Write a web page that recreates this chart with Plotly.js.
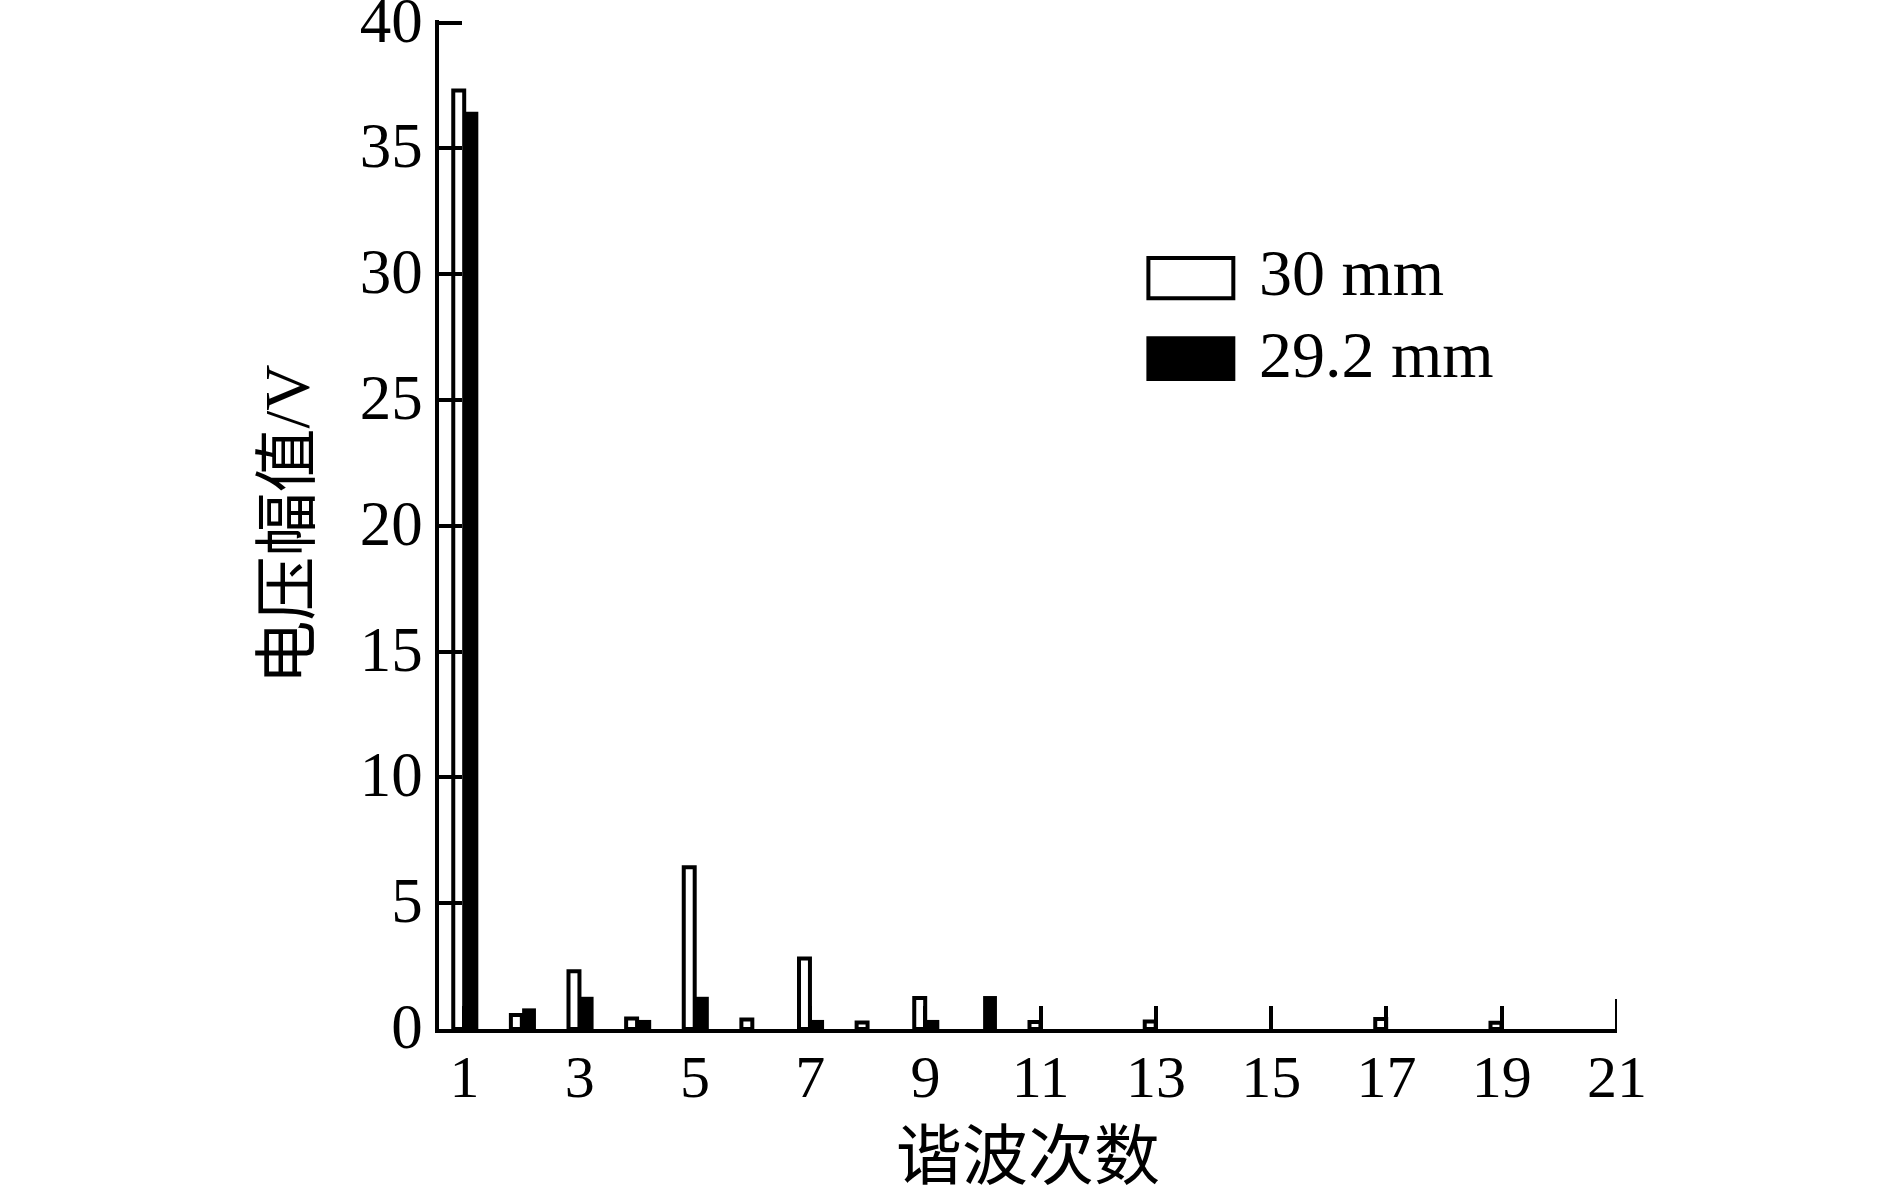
<!DOCTYPE html>
<html>
<head>
<meta charset="utf-8">
<script src="https://cdn.plot.ly/plotly-3.0.1.min.js"></script>
<style>html,body{margin:0;padding:0;background:#fff;}#chart{width:1889px;height:1193px;}</style>
</head>
<body>
<div id="chart"></div>
<script>
// Harmonic order
const harmonics = [1, 2, 3, 4, 5, 6, 7, 8, 9, 10, 11, 12, 13, 14, 15, 16, 17, 18, 19, 20];
// Voltage amplitude (V), 30 mm  (null = no bar drawn)
const amp30 = [37.3, 0.56, 2.3, 0.42, 6.43, 0.38, 2.8, 0.26, 1.23, null, 0.28, null, 0.3, null, null, null, 0.4, null, 0.25, null];
// Voltage amplitude (V), 29.2 mm  (null = no bar drawn)
const amp292 = [36.45, 0.82, 1.28, 0.36, 1.28, null, 0.36, null, 0.36, 1.31, null, null, null, null, null, null, null, null, null, null];
const seriesNames = ["30 mm", "29.2 mm"];
const xTicks = [1, 3, 5, 7, 9, 11, 13, 15, 17, 19, 21];
const yTicks = [0, 5, 10, 15, 20, 25, 30, 35, 40];
const xTitle = "谐波次数";
const yTitle = "电压幅值/V";

const serif = "Liberation Serif, Times New Roman, Noto Sans CJK SC, serif";
const cjk = "Liberation Serif, Noto Sans CJK SC, serif";

const traces = [
  {
    type: "bar", name: seriesNames[0], x: harmonics, y: amp30,
    width: 0.19, offset: -0.195,
    marker: {color: "#ffffff", line: {color: "#000000", width: 4}},
    hoverinfo: "x+y"
  },
  {
    type: "bar", name: seriesNames[1], x: harmonics, y: amp292,
    width: 0.24, offset: 0.0,
    marker: {color: "#000000", line: {color: "#000000", width: 0}},
    hoverinfo: "x+y"
  }
];

// y axis: ~25.17 px per volt; range top slightly above 40 so the 40 tick is kept
const yTop = 40.1;
const pxPerV = (1029 - 22.4) / 40;
const topMargin = 22.4 - (yTop - 40) * pxPerV;

const layout = {
  width: 1889, height: 1193,
  margin: {l: 438.5, r: 272.3, t: topMargin, b: 164, pad: 0},
  paper_bgcolor: "#ffffff", plot_bgcolor: "#ffffff",
  showlegend: false,
  barmode: "overlay",
  font: {family: serif, color: "#000000"},
  xaxis: {
    range: [0.5576, 21.0005],
    tickvals: xTicks,
    ticktext: xTicks.map(String),
    ticks: "inside", ticklen: 23, tickwidth: 4, tickcolor: "#000000",
    showline: true, linewidth: 3.6, linecolor: "#000000",
    showgrid: false, zeroline: false,
    tickfont: {family: serif, size: 60, color: "#000000"},
    ticklabelstandoff: -8,
    ticklabeloverflow: "allow",
    title: {text: xTitle, font: {family: cjk, size: 66, color: "#000000"}, standoff: 25}
  },
  yaxis: {
    range: [0, yTop],
    tickvals: yTicks,
    ticktext: yTicks.map(String),
    ticks: "inside", ticklen: 23, tickwidth: 4, tickcolor: "#000000",
    showline: true, linewidth: 3.6, linecolor: "#000000",
    showgrid: false, zeroline: false,
    tickfont: {family: serif, size: 63, color: "#000000"},
    ticklabelstandoff: 0,
    ticklabelshift: -3,
    ticklabeloverflow: "allow",
    title: {text: yTitle, font: {family: cjk, size: 64, color: "#000000"}, standoff: 30}
  },
  shapes: [
    // legend swatch: 30 mm (open box)
    {type: "rect", xref: "paper", yref: "paper", x0: 0.6022, x1: 0.6743, y0: 0.7243, y1: 0.7640,
     fillcolor: "#ffffff", line: {color: "#000000", width: 4}},
    // legend swatch: 29.2 mm (filled box)
    {type: "rect", xref: "paper", yref: "paper", x0: 0.6005, x1: 0.6760, y0: 0.6423, y1: 0.6865,
     fillcolor: "#000000", line: {width: 0}},
    // end mark of the x axis at 21
    {type: "line", xref: "x", yref: "y", ysizemode: "pixel", yanchor: 0, x0: 21, x1: 21, y0: 0, y1: 30,
     line: {color: "#000000", width: 4}}
  ],
  annotations: [
    {xref: "paper", yref: "paper", x: 0.6948, y: 0.7502, xanchor: "left", yanchor: "middle",
     text: seriesNames[0], showarrow: false, font: {family: serif, size: 66, color: "#000000"}},
    {xref: "paper", yref: "paper", x: 0.6948, y: 0.6687, xanchor: "left", yanchor: "middle",
     text: seriesNames[1], showarrow: false, font: {family: serif, size: 66, color: "#000000"}}
  ]
};

Plotly.newPlot("chart", traces, layout, {displayModeBar: false, staticPlot: true});
</script>
</body>
</html>
